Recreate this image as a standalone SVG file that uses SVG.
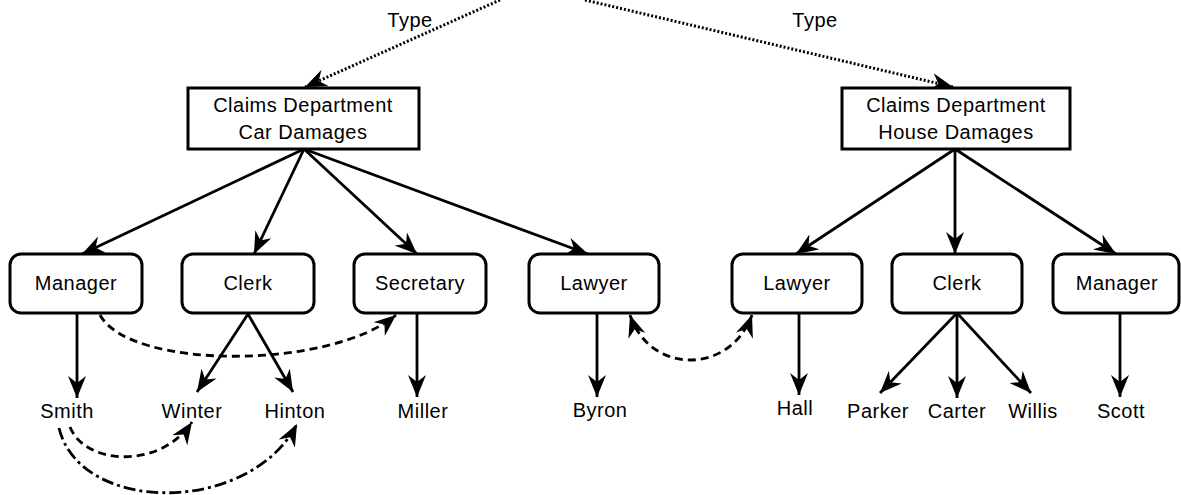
<svg xmlns="http://www.w3.org/2000/svg" width="1181" height="495" viewBox="0 0 1181 495">
<defs>
<style>
text{font-family:"Liberation Sans",Arial,sans-serif;font-size:20px;letter-spacing:0.5px;fill:#000;text-anchor:middle}
.box{fill:#fff;stroke:#000;stroke-width:3}
.solid{fill:none;stroke:#000;stroke-width:2.8;marker-end:url(#ah)}
.dash{fill:none;stroke:#000;stroke-width:2.8;stroke-dasharray:8 5;marker-end:url(#ah)}
.dashdot{fill:none;stroke:#000;stroke-width:2.8;stroke-dasharray:12 4 3 4;marker-end:url(#ah)}
.dot{fill:none;stroke:#000;stroke-width:3;stroke-dasharray:2 2;marker-end:url(#ah)}
</style>
<marker id="ah" markerUnits="userSpaceOnUse" markerWidth="24" markerHeight="18" refX="22" refY="9" orient="auto">
<path d="M0,0 L22,9 L0,18 L7,9 z" fill="#000"/>
</marker>
<marker id="ahs" markerUnits="userSpaceOnUse" markerWidth="24" markerHeight="18" refX="2" refY="9" orient="auto">
<path d="M24,0 L2,9 L24,18 L17,9 z" fill="#000"/>
</marker>
</defs>
<rect width="1181" height="495" fill="#fff"/>
<g id="connectors">
<path class="dot" d="M500,0 L305,87"/>
<path class="dot" d="M585,0 L953,87"/>
<path class="solid" d="M304,149 L82,254"/>
<path class="solid" d="M304,149 L254,254"/>
<path class="solid" d="M304,149 L417,254"/>
<path class="solid" d="M304,149 L588,254"/>
<path class="solid" d="M955,149 L796,254"/>
<path class="solid" d="M955,149 L955,254"/>
<path class="solid" d="M955,149 L1116,254"/>
<path class="solid" d="M77,313 L77,398"/>
<path class="solid" d="M248,314 L197,392"/>
<path class="solid" d="M248,314 L293,392"/>
<path class="solid" d="M417,313 L417,397"/>
<path class="solid" d="M597,313 L597,397"/>
<path class="solid" d="M799,313 L799,395"/>
<path class="solid" d="M957,313 L880,393"/>
<path class="solid" d="M957,313 L957,398"/>
<path class="solid" d="M957,313 L1031,393"/>
<path class="solid" d="M1120,313 L1120,397"/>
<path class="dash" d="M100,315 C130,370 330,370 396,315"/>
<path class="dash" d="M70,427 C85,465 160,470 192,422"/>
<path class="dashdot" d="M59,428 C80,515 250,515 297,424"/>
<path class="dash" style="marker-start:url(#ahs)" d="M630,315 C650,375 730,375 752,315"/>
<text x="410" y="27">Type</text>
<text x="815" y="27">Type</text>
</g>
<g id="car-dept">
<rect class="box" x="188" y="88" width="231" height="61"/>
<text x="303" y="112">Claims Department</text>
<text x="303" y="139">Car Damages</text>
</g>
<g id="house-dept">
<rect class="box" x="842" y="88" width="228" height="61"/>
<text x="956" y="112">Claims Department</text>
<text x="956" y="139">House Damages</text>
</g>
<g id="manager1"><rect class="box" x="10" y="254" width="132" height="59" rx="11"/><text x="76" y="290">Manager</text></g>
<g id="clerk1"><rect class="box" x="182" y="254" width="132" height="59" rx="11"/><text x="248" y="290">Clerk</text></g>
<g id="secretary"><rect class="box" x="354" y="254" width="132" height="59" rx="11"/><text x="420" y="290">Secretary</text></g>
<g id="lawyer1"><rect class="box" x="529" y="254" width="130" height="59" rx="11"/><text x="594" y="290">Lawyer</text></g>
<g id="lawyer2"><rect class="box" x="732" y="254" width="130" height="59" rx="11"/><text x="797" y="290">Lawyer</text></g>
<g id="clerk2"><rect class="box" x="892" y="254" width="130" height="59" rx="11"/><text x="957" y="290">Clerk</text></g>
<g id="manager2"><rect class="box" x="1053" y="254" width="126" height="59" rx="11"/><text x="1117" y="290">Manager</text></g>
<g id="smith"><text x="67" y="418">Smith</text></g>
<g id="winter"><text x="192" y="418">Winter</text></g>
<g id="hinton"><text x="295" y="418">Hinton</text></g>
<g id="miller"><text x="423" y="418">Miller</text></g>
<g id="byron"><text x="600" y="417">Byron</text></g>
<g id="hall"><text x="795" y="415">Hall</text></g>
<g id="parker"><text x="878" y="418">Parker</text></g>
<g id="carter"><text x="957" y="418">Carter</text></g>
<g id="willis"><text x="1033" y="418">Willis</text></g>
<g id="scott"><text x="1121" y="418">Scott</text></g>
</svg>
